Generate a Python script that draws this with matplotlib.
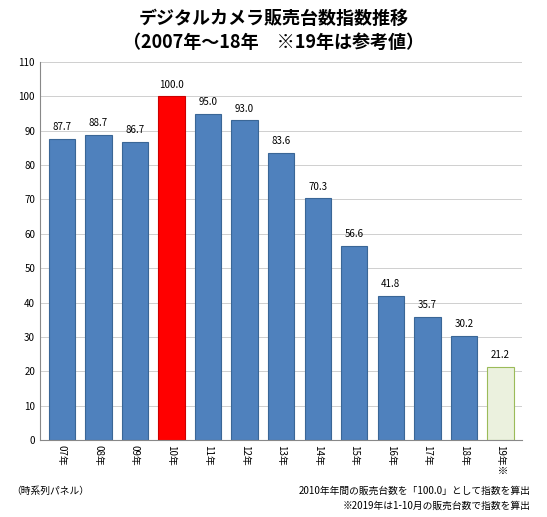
import matplotlib
matplotlib.use('Agg')
import matplotlib.pyplot as plt

plt.rcParams['font.family'] = ['Noto Sans CJK JP', 'DejaVu Sans']

labels = ['07年', '08年', '09年', '10年', '11年', '12年', '13年', '14年', '15年', '16年', '17年', '18年', '19年※']
values = [87.7, 88.7, 86.7, 100.0, 95.0, 93.0, 83.6, 70.3, 56.6, 41.8, 35.7, 30.2, 21.2]

colors = ['#4f81bd'] * len(values)
colors[3] = '#ff0000'
colors[-1] = '#ebf1de'
edges = ['#3a6696'] * len(values)
edges[3] = '#cc0000'
edges[-1] = '#9bbb59'

fig = plt.figure(figsize=(5.47, 5.17), dpi=100)
ax = fig.add_axes([0.073, 0.149, 0.882, 0.731])

x = range(len(values))
ax.bar(x, values, width=0.72, color=colors, edgecolor=edges, linewidth=0.8)
for i, v in zip(x, values):
    ax.text(i, v + 2, f'{v:.1f}', ha='center', va='bottom', fontsize=7)

ax.set_ylim(0, 110)
ax.set_yticks(range(0, 111, 10))
ax.tick_params(axis='y', labelsize=7, length=0)
ax.set_xlim(-0.6, len(values) - 0.4)
ax.set_xticks(list(x))
ax.set_xticklabels(labels, rotation=270, fontsize=7, va='top')
ax.tick_params(axis='x', length=0)
ax.grid(axis='y', color='#c8c8c8', linewidth=0.6)
ax.set_axisbelow(True)
for s in ['top', 'right']:
    ax.spines[s].set_visible(False)
ax.spines['left'].set_color('#888888')
ax.spines['bottom'].set_color('#888888')

fig.text(0.5, 0.965, 'デジタルカメラ販売台数指数推移', ha='center', va='center', fontsize=13, fontweight='bold')
fig.text(0.5, 0.918, '（2007年～18年　※19年は参考値）', ha='center', va='center', fontsize=13, fontweight='bold')
fig.text(0.02, 0.05, '（時系列パネル）', ha='left', va='center', fontsize=7)
fig.text(0.97, 0.05, '2010年年間の販売台数を「100.0」として指数を算出', ha='right', va='center', fontsize=7)
fig.text(0.97, 0.022, '※2019年は1-10月の販売台数で指数を算出', ha='right', va='center', fontsize=7)

fig.savefig('out.png', dpi=100)
